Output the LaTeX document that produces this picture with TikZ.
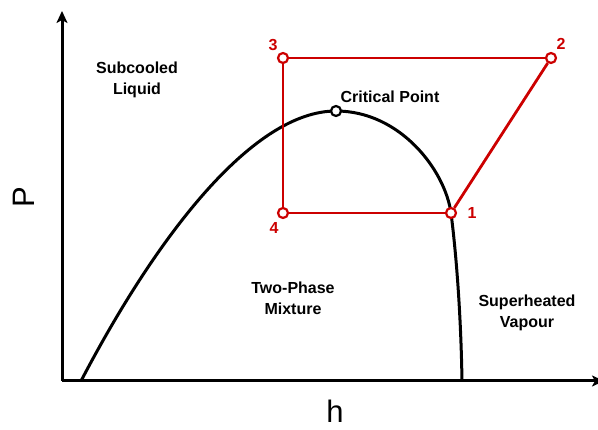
\documentclass[tikz,border=0pt]{standalone}
\usepackage{fontspec}
\setmainfont{Liberation Sans}
\usetikzlibrary{arrows.meta}
\definecolor{cyc}{RGB}{204,0,0}
\begin{document}
\begin{tikzpicture}[x=1pt,y=-1pt,
  axis/.style={line width=3pt,-{Stealth[length=12pt,width=11pt,inset=3pt]}},
  dome/.style={line width=3pt,black},
  cycline/.style={line width=2.8pt,cyc},
  statept/.style={circle,draw=cyc,fill=white,line width=2.2pt,minimum size=10pt,inner sep=0pt},
  critpt/.style={circle,draw=black,fill=white,line width=2.2pt,minimum size=10pt,inner sep=0pt},
  region/.style={font=\fontsize{16}{21}\selectfont\bfseries,align=center,text=black,inner sep=0pt},
  num/.style={font=\fontsize{16}{18}\selectfont\bfseries,text=cyc,inner sep=0pt},
  axlab/.style={font=\fontsize{31}{36}\selectfont,inner sep=0pt}]
\useasboundingbox (0,0) rectangle (598,430);
% axes
\coordinate (O) at (62,381);
\coordinate (ytop) at (62,11);
\coordinate (xend) at (604,381);
\draw[axis] (O) -- (ytop);
\draw[axis] (O) -- (xend);
% saturation dome
\coordinate (dL) at (81,381);
\coordinate (dR) at (462,381);
\draw[dome] (dL) .. controls (160,230) and (255,111) .. (336,111)
  .. controls (400,111) and (445,170) .. (451,213)
  .. controls (457,260) and (461,320) .. (dR);
\node[critpt] (cp) at (336,111) {};
% cycle states
\node[statept] (p3) at (283,58) {};
\node[statept] (p2) at (551,58) {};
\node[statept] (p1) at (451,213) {};
\node[statept] (p4) at (283,213) {};
\draw[cycline] (p3) -- (p2);
\draw[cycline] (p2) -- (p1);
\draw[cycline] (p1) -- (p4);
\draw[cycline] (p4) -- (p3);
% numbers
\node[num] (n3) at (273,45) {3};
\node[num] (n2) at (561,44) {2};
\node[num] (n1) at (472,213) {1};
\node[num] (n4) at (274,228) {4};
% labels
\node[region] (sub) at (137,80) {Subcooled\\Liquid};
\node[region] (crit) at (390,97) {Critical Point};
\node[region] (two) at (293,298) {Two-Phase\\Mixture};
\node[region] (sup) at (527,313) {Superheated\\Vapour};
\node[axlab,rotate=90] (P) at (24,197) {P};
\node[axlab] (h) at (335,411) {h};
\end{tikzpicture}
\end{document}
